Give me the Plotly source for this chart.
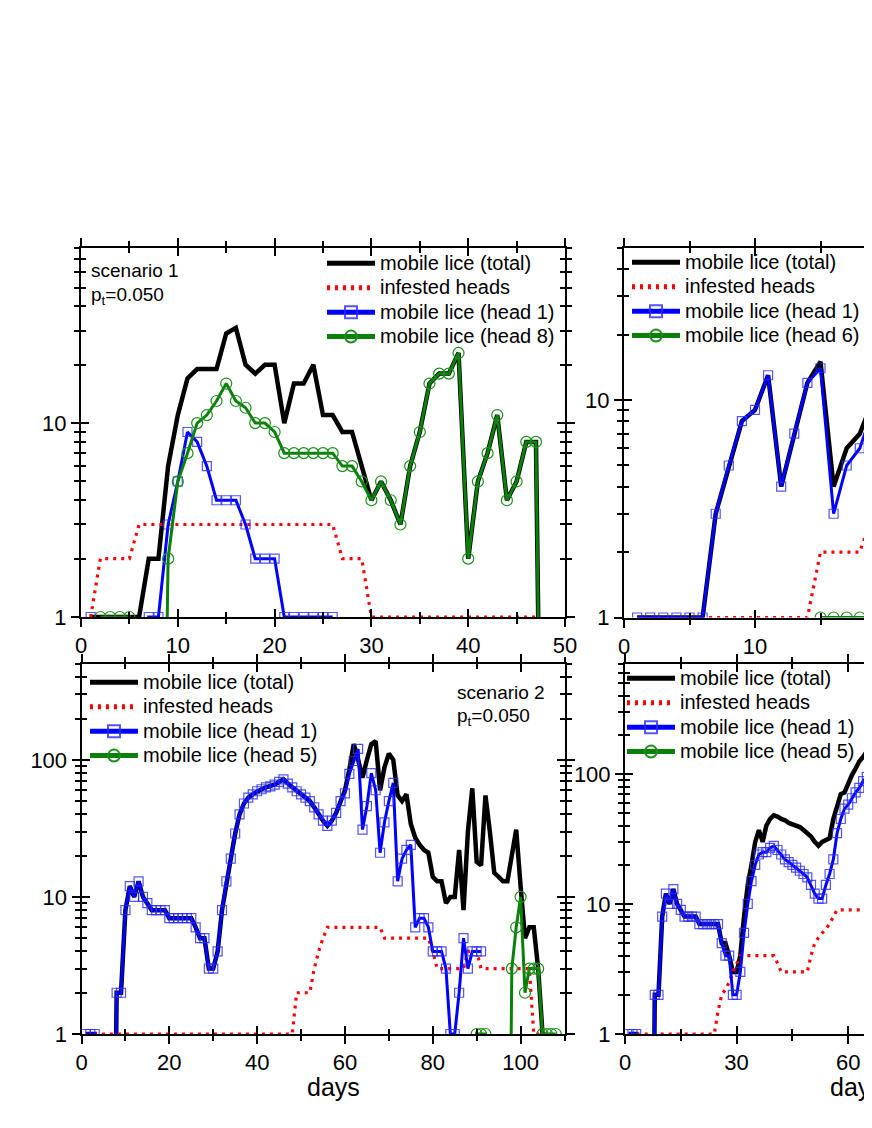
import math
import plotly.graph_objects as go

# ---------------- data ----------------
# zero counts are kept as 0 and drawn below the log-axis floor
FLOOR = 1e-3

# scenario 1 (top-left)
tl_days_total = list(range(1, 49))
tl_total = [1, 1, 1, 1, 1, 1, 2, 2, 6, 11, 17, 19, 19, 19, 29, 31, 20, 18, 20, 20,
            10, 16, 16, 20, 11, 11, 9, 9, 6, 4, 5, 4, 3, 6, 9, 16, 18, 18, 23, 2,
            5, 7, 11, 4, 5, 8, 8, 0]
tl_days_inf = list(range(1, 48))
tl_inf = [1, 2, 2, 2, 2] + [3] * 21 + [2, 2, 2] + [1] * 18
tl_days_h1 = list(range(1, 27))
tl_h1 = [1, 0, 0, 0, 0, 0, 1, 1, 3, 5, 9, 8, 6, 4, 4, 4, 3, 2, 2, 2,
         1, 1, 1, 1, 1, 1]
tl_days_h8 = list(range(2, 49))
tl_h8 = [1, 1, 1, 1, 0, 0, 0, 2, 5, 7, 10, 11, 13, 16, 13, 12, 10, 10, 9,
         7, 7, 7, 7, 7, 7, 6, 6, 5, 4, 5, 4, 3, 6, 9, 16, 18, 18, 23, 2,
         5, 7, 11, 4, 5, 8, 8, 0]

# top-right panel
tr_days = list(range(1, 20))
tr_total = [1, 1, 1, 1, 1, 1, 3, 5, 8, 9, 13, 4, 7, 12, 15, 4, 6, 7, 10]
tr_inf = [1] * 14 + [2, 2, 2, 2, 3]
tr_h1 = [1, 1, 1, 1, 1, 1, 3, 5, 8, 9, 13, 4, 7, 12, 14, 3, 5, 6, 9]
tr_days_h6 = [15, 16, 17, 18, 19]
tr_h6 = [1, 1, 1, 1, 1]

# scenario 2 (bottom-left)
bl_days_total = list(range(1, 106))
bl_total = [1, 1, 1, 0, 0, 0, 0, 2, 2, 8, 12, 10, 13, 10, 9, 8, 8, 8, 8, 7,
            7, 7, 7, 7, 7, 6, 5, 5, 3, 3, 4, 8, 13, 19, 29, 40, 48, 53, 56, 59,
            61, 63, 64, 66, 69, 72, 67, 63, 59, 56, 53, 50, 45, 40, 36, 33, 36, 41, 50, 60,
            85, 130, 100, 74, 100, 130, 137, 60, 88, 111, 100, 55, 50, 56, 34, 27, 24, 22, 21, 14,
            13, 13, 9, 10, 10, 22, 8, 30, 62, 18, 17, 55, 30, 15, 14, 13, 13, 20, 31, 12,
            5, 6, 6, 3, 1]
bl_days_inf = list(range(1, 109))
bl_inf = [1] * 48 + [2, 2, 2, 2, 3, 4, 5] + [6] * 13 + [5] * 11 + [4, 3] + [3] * 6 + [4, 4, 4] + \
         [3] * 12 + [1] * 5
bl_days_h1 = list(range(1, 92))
bl_h1 = [1, 1, 1, 0, 0, 0, 0, 2, 2, 8, 12, 10, 13, 10, 9, 8, 8, 8, 8, 7,
         7, 7, 7, 7, 7, 6, 5, 5, 3, 3, 4, 8, 13, 19, 29, 40, 48, 53, 56, 59,
         61, 63, 64, 66, 69, 72, 67, 63, 59, 56, 53, 50, 45, 40, 36, 33, 36, 41, 50, 57,
         79, 98, 120, 31, 46, 80, 60, 21, 35, 50, 68, 13, 19, 22, 24, 6, 7, 7, 6, 4,
         4, 4, 3, 1, 1, 2, 5, 3, 4, 4, 4]
bl_days_h5 = list(range(90, 109))
bl_h5 = [1, 1, 1, 0, 0, 0, 0, 0, 3, 6, 10, 2, 3, 3, 3, 1, 1, 1, 1]

# bottom-right panel
br_days = list(range(1, 68))
br_total = [1, 1, 1, 0, 0, 0, 0, 2, 2, 8, 12, 10, 13, 10, 9, 8, 8, 8, 8, 7,
            7, 7, 7, 7, 7, 5, 5, 4, 3, 3, 4, 8, 14, 20, 30, 37, 30, 40, 45, 48,
            47, 45, 44, 42, 41, 40, 39, 37, 35, 33, 30, 28, 30, 31, 32, 45, 55, 70, 72, 85,
            98, 110, 125, 135, 150, 165, 175]
br_inf = [1] * 24 + [1.5, 2, 2.2, 2.5, 3, 3.5] + [4] * 10 + [3.5] + [3] * 8 + \
         [4, 5, 5.5, 6, 6.5, 7, 8] + [9] * 11
br_h1 = [1, 1, 1, 0, 0, 0, 0, 2, 2, 8, 12, 10, 13, 10, 9, 8, 8, 8, 8, 7,
         7, 7, 7, 7, 7, 5, 4, 4, 2, 2, 3, 6, 10, 15, 20, 24, 25, 25, 27, 28,
         26, 24, 22, 21, 20, 19, 18, 17, 16, 14, 12, 11, 11, 14, 17, 22, 35, 45, 54, 58,
         65, 72, 78, 88, 95, 98, 100]
br_days_h5 = []
br_h5 = []

LEG_TOTAL = "mobile lice (total)"
LEG_INF = "infested heads"
LEG_H1 = "mobile lice (head 1)"

# ---------------- layout helpers ----------------
OFF = 8  # page margin around the plot div
W, H = 872 - OFF, 1128 - 2 * OFF  # fits the window exactly, no scrollbars
FONT = "Liberation Sans, Arial, sans-serif"


def fx(p):
    return (p - OFF) / W


def fy(p):
    return 1 - (p - OFF) / H


def shown(vals):
    return [FLOOR if v == 0 else v for v in vals]


def big(label):
    return f"<span style='font-size:20px'>{label}</span>"


fig = go.Figure()

BLACK = "#000000"
RED = "#ff0000"
BLUE = "#0000ff"
GREEN = "#0a7f0a"


def add_series(i, legend, days_t, total, days_i, inf, days_1, h1, days_n, hn, nlabel):
    xa, ya = ("x" if i == 1 else f"x{i}"), ("y" if i == 1 else f"y{i}")
    fig.add_trace(go.Scatter(x=days_t, y=shown(total), mode="lines", name=big(LEG_TOTAL),
                             line=dict(color=BLACK, width=4.5), xaxis=xa, yaxis=ya,
                             legend=legend))
    fig.add_trace(go.Scatter(x=days_i, y=shown(inf), mode="lines", name=big(LEG_INF),
                             line=dict(color=RED, width=3.2, dash="3px,5px"), xaxis=xa, yaxis=ya,
                             legend=legend))
    fig.add_trace(go.Scatter(x=days_1, y=shown(h1), mode="lines+markers", name=big(LEG_H1),
                             line=dict(color=BLUE, width=3),
                             marker=dict(symbol="square-open", size=9, color="rgba(40,40,255,0.8)",
                                         line=dict(width=1.2)),
                             xaxis=xa, yaxis=ya, legend=legend))
    fig.add_trace(go.Scatter(x=days_n if days_n else [None], y=shown(hn) if hn else [None],
                             mode="lines+markers", name=big(nlabel),
                             line=dict(color=GREEN, width=3),
                             marker=dict(symbol="circle-open", size=11, color="#1a901a",
                                         line=dict(width=1.2)),
                             xaxis=xa, yaxis=ya, legend=legend))


add_series(1, "legend", tl_days_total, tl_total, tl_days_inf, tl_inf, tl_days_h1, tl_h1,
           tl_days_h8, tl_h8, "mobile lice (head 8)")
add_series(2, "legend2", tr_days, tr_total, tr_days, tr_inf, tr_days, tr_h1,
           tr_days_h6, tr_h6, "mobile lice (head 6)")
add_series(3, "legend3", bl_days_total, bl_total, bl_days_inf, bl_inf, bl_days_h1, bl_h1,
           bl_days_h5, bl_h5, "mobile lice (head 5)")
add_series(4, "legend4", br_days, br_total, br_days, br_inf, br_days, br_h1,
           br_days_h5, br_h5, "mobile lice (head 5)")

EDGE = W + OFF  # right edge of the plot div on the page (= window edge)
panels = [
    dict(xd=(81, 565), yd=(248, 617), xr=(0, 50), ytop=80,
         xmaj=[0, 10, 20, 30, 40, 50], xmin=[5, 15, 25, 35, 45], mir=True),
    dict(xd=(624, EDGE), yd=(248, 617.5), xr=(0, (EDGE - 624) / 13.1), ytop=50,
         xmaj=[0, 10, 20, 30], xmin=[5, 15, 25, 35], mir=False),
    dict(xd=(81.5, 564.5), yd=(664, 1034), xr=(0, 110), ytop=500,
         xmaj=[0, 20, 40, 60, 80, 100], xmin=[10, 30, 50, 70, 90, 110], mir=True),
    dict(xd=(625, EDGE), yd=(664, 1034), xr=(0, (EDGE - 625) / 3.72), ytop=700,
         xmaj=[0, 30, 60, 90, 120], xmin=[15, 45, 75, 105], mir=False),
]

layout = {}
for k, p in enumerate(panels):
    i = k + 1
    j = i + 4
    ytop = p["ytop"]
    ymaj = [v for v in [1, 10, 100] if v <= ytop]
    ymin = [m * d for d in [1, 10, 100] for m in range(2, 10) if m * d <= ytop]
    xdom = [fx(p["xd"][0]), min(1.0, fx(p["xd"][1]))]
    ydom = [fy(p["yd"][1]), fy(p["yd"][0])]
    yr = [0, math.log10(ytop)]
    common = dict(showgrid=False, zeroline=False, color="black")
    layout[f"xaxis{i}"] = dict(domain=xdom, range=list(p["xr"]), anchor=f"y{i}",
                               showline=True, linewidth=2, linecolor="black", mirror="ticks",
                               ticks="outside", ticklen=8, tickwidth=2, tickcolor="black",
                               tickmode="array", tickvals=p["xmaj"],
                               ticktext=[str(v) for v in p["xmaj"]],
                               minor=dict(tickmode="array", tickvals=p["xmin"], ticks="outside",
                                          ticklen=5, tickwidth=2, tickcolor="black"),
                               tickfont=dict(family=FONT, size=22, color="black"), **common)
    layout[f"yaxis{i}"] = dict(domain=ydom, range=yr, type="log", anchor=f"x{i}",
                               showline=True, linewidth=2, linecolor="black",
                               mirror="ticks" if p["mir"] else False,
                               ticks="outside", ticklen=8, tickwidth=2, tickcolor="black",
                               tickmode="array", tickvals=ymaj, ticktext=[str(v) for v in ymaj],
                               minor=dict(tickmode="array", tickvals=ymin, ticks="outside",
                                          ticklen=5, tickwidth=2, tickcolor="black"),
                               tickfont=dict(family=FONT, size=22, color="black"), **common)
    # overlay axes: the inner half of the crossing ticks
    layout[f"xaxis{j}"] = dict(overlaying=f"x{i}", anchor=f"y{j}", range=list(p["xr"]),
                               showline=False, mirror="ticks", ticks="inside", ticklen=8,
                               tickwidth=2, tickcolor="black", tickmode="array",
                               tickvals=p["xmaj"], showticklabels=False,
                               minor=dict(tickmode="array", tickvals=p["xmin"], ticks="inside",
                                          ticklen=5, tickwidth=2, tickcolor="black"), **common)
    layout[f"yaxis{j}"] = dict(overlaying=f"y{i}", anchor=f"x{j}", range=yr, type="log",
                               showline=False, mirror="ticks" if p["mir"] else False,
                               ticks="inside", ticklen=8, tickwidth=2, tickcolor="black",
                               tickmode="array", tickvals=ymaj, showticklabels=False,
                               minor=dict(tickmode="array", tickvals=ymin, ticks="inside",
                                          ticklen=5, tickwidth=2, tickcolor="black"), **common)
    fig.add_trace(go.Scatter(x=[None], y=[None], xaxis=f"x{j}", yaxis=f"y{j}",
                             showlegend=False, hoverinfo="skip"))

leg_common = dict(font=dict(family=FONT, size=16.5, color="black"), bgcolor="rgba(0,0,0,0)",
                  borderwidth=0, xanchor="left", yanchor="top", itemwidth=48,
                  tracegroupgap=0, itemsizing="constant")
layout["legend"] = dict(x=fx(322), y=fy(246), **leg_common)
layout["legend2"] = dict(x=fx(627), y=fy(245), **leg_common)
layout["legend3"] = dict(x=fx(85), y=fy(665), **leg_common)
layout["legend4"] = dict(x=fx(622), y=fy(661), **leg_common)

ann_font = dict(family=FONT, size=19, color="black")
annotations = [
    dict(text="scenario 1", x=fx(89), y=fy(270), xref="paper", yref="paper",
         xanchor="left", yanchor="middle", showarrow=False, font=ann_font),
    dict(text="p<sub>t</sub>=0.050", x=fx(89), y=fy(296), xref="paper", yref="paper",
         xanchor="left", yanchor="middle", showarrow=False, font=ann_font),
    dict(text="scenario 2", x=fx(455), y=fy(692), xref="paper", yref="paper",
         xanchor="left", yanchor="middle", showarrow=False, font=ann_font),
    dict(text="p<sub>t</sub>=0.050", x=fx(455), y=fy(717), xref="paper", yref="paper",
         xanchor="left", yanchor="middle", showarrow=False, font=ann_font),
    dict(text="days", x=fx(333), y=fy(1087), xref="paper", yref="paper",
         xanchor="center", yanchor="middle", showarrow=False,
         font=dict(family=FONT, size=25, color="black")),
    dict(text="days", x=fx(856), y=fy(1087), xref="paper", yref="paper",
         xanchor="center", yanchor="middle", showarrow=False,
         font=dict(family=FONT, size=25, color="black")),
]

fig.update_layout(width=W, height=H, margin=dict(l=0, r=0, t=0, b=0, autoexpand=False),
                  paper_bgcolor="white", plot_bgcolor="rgba(0,0,0,0)",
                  font=dict(family=FONT, color="black"),
                  annotations=annotations, showlegend=True, **layout)

fig.write_html("out.html",
               post_script="document.documentElement.style.overflow='hidden';"
                           "document.body.style.overflow='hidden';")
